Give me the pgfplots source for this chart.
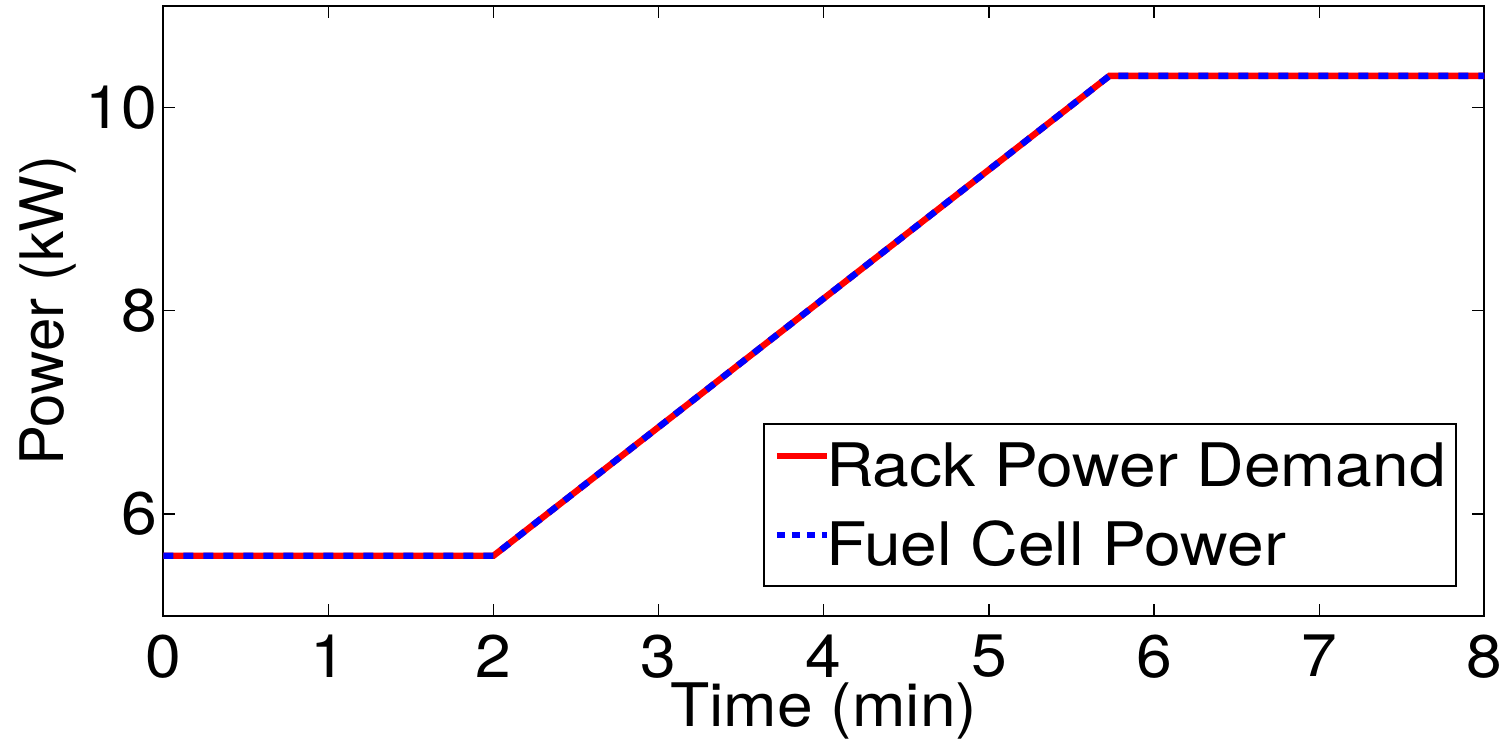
\documentclass[border=0pt]{standalone}
\usepackage{pgfplots}
\pgfplotsset{compat=1.18}
\usepackage{fontspec}
\setmainfont[FakeStretch=1.07]{TeX Gyre Heros}
\newfontfamily\ylfont{TeX Gyre Heros}
\newfontfamily\legfont[FakeStretch=1.1]{TeX Gyre Heros}
\begin{document}
\begin{tikzpicture}
\begin{axis}[
    scale only axis,
    width=660.5pt, height=305pt,
    xmin=0, xmax=8, ymin=5, ymax=11,
    xtick={0,...,8}, ytick={6,8,10},
    tick align=inside, major tick length=6pt,
    every tick/.style={black, line width=0.6pt},
    axis line style={line width=1pt},
    font=\fontsize{30}{36}\selectfont,
    /pgf/number format/assume math mode=true,
    xticklabel style={inner sep=0pt, yshift=-9.5pt},
    yticklabel style={inner sep=0pt, xshift=-3pt},
    xlabel={Time (min)},
    ylabel={Power (kW)},
    xlabel style={at={(axis description cs:0.5,-0.182)}, anchor=base},
    ylabel style={at={(axis description cs:-0.0757,0.5)}, anchor=base,
        font=\ylfont\fontsize{30}{36}\selectfont},
    legend cell align=left,
    legend style={
        at={(rel axis cs:0.4537,0.0475)}, anchor=south west,
        draw=black, line width=1pt,
        font=\legfont\fontsize{30}{36}\selectfont,
        inner xsep=5pt, inner ysep=4pt,
        row sep=6pt, column sep=-2pt,
        nodes={inner sep=0pt, text height=27.5pt, text depth=6pt},
    },
    legend image code/.code={\draw[#1] (0pt,4.5pt) -- (25pt,4.5pt);},
]
\addplot[red, line width=3.2pt] coordinates {
    (0,5.59) (2,5.59) (5.73,10.31) (8,10.31)};
\addlegendentry{Rack Power Demand}
\addplot[blue, line width=3.2pt, dash pattern=on 5pt off 5pt,
    legend image code/.code={\draw[blue, line width=3.2pt,
        dash pattern=on 4pt off 3.5pt] (0pt,4.5pt) -- (25pt,4.5pt);}]
    coordinates {(0,5.59) (2,5.59) (5.73,10.31) (8,10.31)};
\addlegendentry{Fuel Cell Power}
\coordinate (bbl) at (rel axis cs:-0.1236,-0.2048);
\coordinate (btr) at (rel axis cs:1.0164,1.0093);
\end{axis}
\path (bbl) rectangle (btr);
\end{tikzpicture}
\end{document}
